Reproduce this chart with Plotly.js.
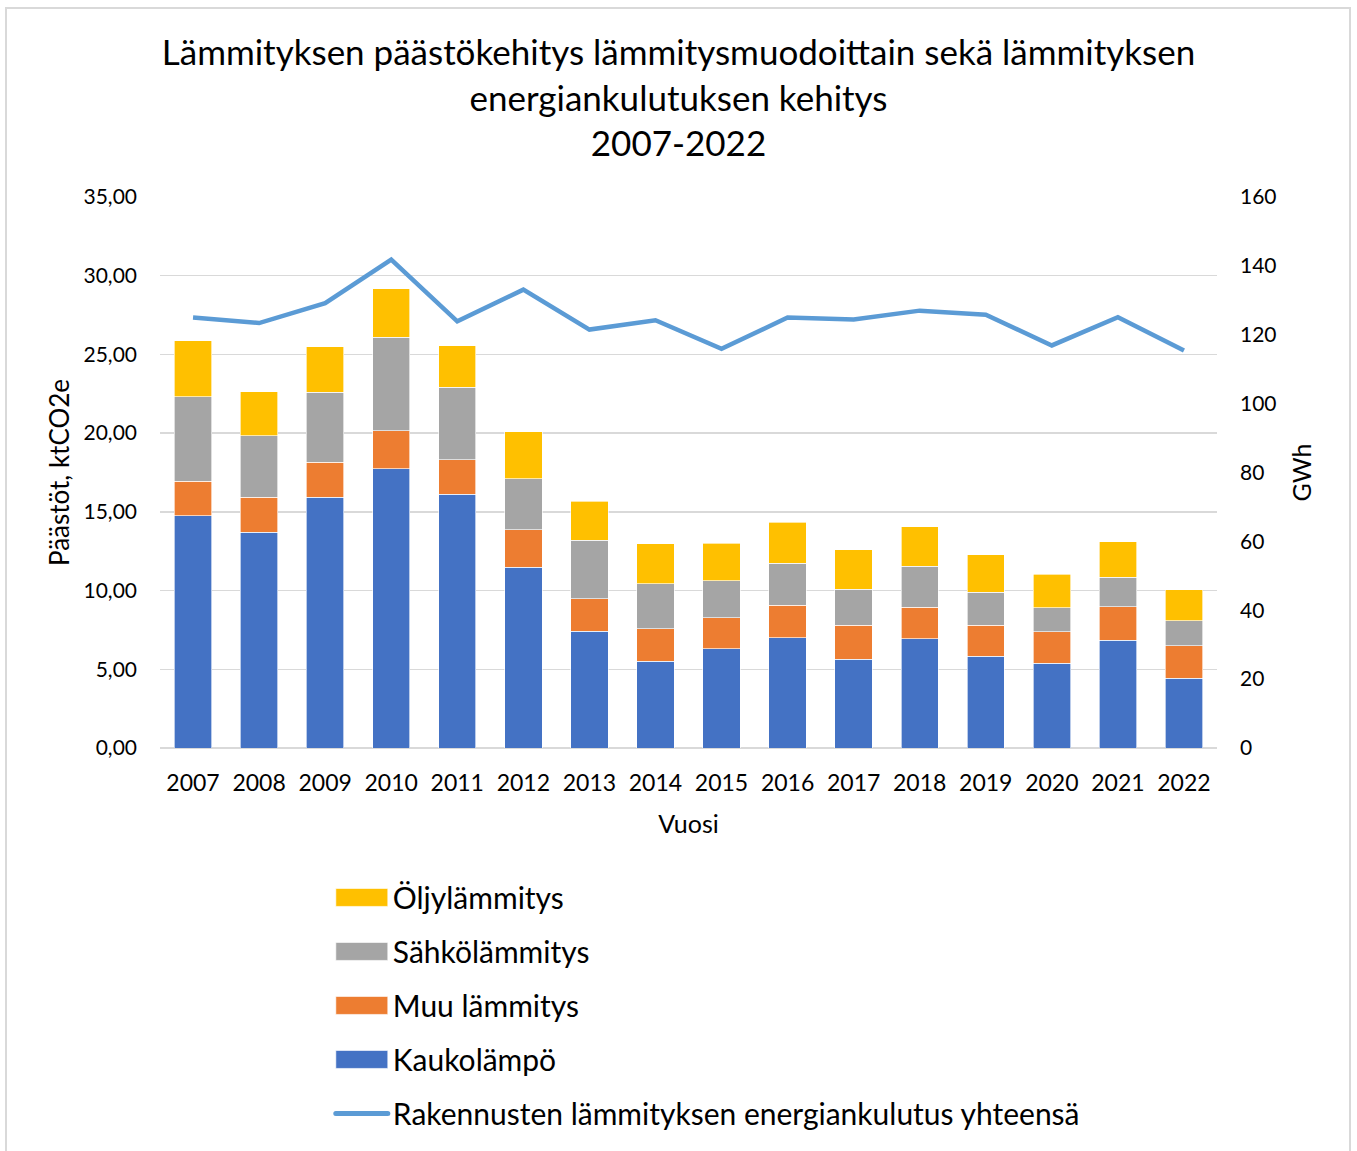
<!DOCTYPE html>
<html>
<head>
<meta charset="utf-8">
<script src="https://cdn.plot.ly/plotly-3.0.1.min.js"></script>
<style>
  html, body { margin: 0; padding: 0; background: #fff; }
  #wrap { position: relative; width: 1357px; height: 1151px; }
  #chart { position: absolute; left: 0; top: 0; width: 1357px; height: 1151px; }
  #frame { position: absolute; left: 5px; top: 7px; width: 1346px; height: 1150px;
           border: 2px solid #d9d9d9; box-sizing: border-box; pointer-events: none; }
</style>
</head>
<body>
<div id="wrap">
  <div id="chart"></div>
  <div id="frame"></div>
</div>
<script>
// ---- Data ----
const years = ["2007","2008","2009","2010","2011","2012","2013","2014","2015","2016","2017","2018","2019","2020","2021","2022"];
const kaukolampo = [14.76, 13.70, 15.92, 17.75, 16.11, 11.47, 7.41, 5.50, 6.29, 6.99, 5.65, 6.94, 5.82, 5.38, 6.84, 4.42];
const muuLammitys = [2.20, 2.22, 2.23, 2.41, 2.21, 2.38, 2.06, 2.08, 1.97, 2.09, 2.14, 1.99, 1.99, 1.99, 2.14, 2.06];
const sahkoLammitys = [5.36, 3.90, 4.44, 5.93, 4.59, 3.26, 3.72, 2.84, 2.37, 2.67, 2.29, 2.61, 2.08, 1.54, 1.88, 1.61];
const oljyLammitys = [3.54, 2.82, 2.89, 3.09, 2.63, 2.97, 2.48, 2.56, 2.39, 2.58, 2.50, 2.50, 2.37, 2.14, 2.25, 1.97];
const energiankulutus = [125.0, 123.4, 129.2, 141.8, 123.9, 133.1, 121.5, 124.2, 115.9, 125.0, 124.4, 127.0, 125.8, 116.9, 125.1, 115.4];

const leftTicks = [0, 5, 10, 15, 20, 25, 30, 35];
const leftTickText = ["0,00", "5,00", "10,00", "15,00", "20,00", "25,00", "30,00", "35,00"];
const rightTicks = [0, 20, 40, 60, 80, 100, 120, 140, 160];

const FONT = "Lato, 'Open Sans', sans-serif";
const barLine = { color: "rgba(255,255,255,0.8)", width: 0.8 };

const traces = [
  { type: "bar", name: "Kaukolämpö", x: years, y: kaukolampo,
    marker: { color: "#4472C4", line: barLine }, legendrank: 4, legendgroup: "g4" },
  { type: "bar", name: "Muu lämmitys", x: years, y: muuLammitys,
    marker: { color: "#ED7D31", line: barLine }, legendrank: 3, legendgroup: "g3" },
  { type: "bar", name: "Sähkölämmitys", x: years, y: sahkoLammitys,
    marker: { color: "#A5A5A5", line: barLine }, legendrank: 2, legendgroup: "g2" },
  { type: "bar", name: "Öljylämmitys", x: years, y: oljyLammitys,
    marker: { color: "#FFC000", line: barLine }, legendrank: 1, legendgroup: "g1" },
  { type: "scatter", mode: "lines", name: "Rakennusten lämmityksen energiankulutus yhteensä",
    x: years, y: energiankulutus, yaxis: "y2",
    line: { color: "#5B9BD5", width: 4.5, shape: "linear" }, legendrank: 5, legendgroup: "g5" }
];

const layout = {
  width: 1357, height: 1151,
  paper_bgcolor: "#fff", plot_bgcolor: "#fff",
  font: { family: FONT, color: "#000", size: 21 },
  margin: { l: 160, r: 140, t: 197, b: 403 },
  title: {
    text: "Lämmityksen päästökehitys lämmitysmuodoittain sekä lämmityksen<br>energiankulutuksen kehitys<br>2007-2022",
    font: { family: FONT, size: 35, color: "#000" },
    x: 0.5, xanchor: "center", y: 0.9435, yanchor: "top"
  },
  barmode: "stack",
  bargap: 0.435,
  showlegend: true,
  legend: {
    x: 0.1616, xanchor: "left", y: -0.224, yanchor: "top",
    orientation: "v", traceorder: "grouped", tracegroupgap: 12,
    font: { family: FONT, size: 30, color: "#000" },
    itemwidth: 52, bgcolor: "rgba(0,0,0,0)"
  },
  xaxis: {
    type: "category",
    tickfont: { family: FONT, size: 23, color: "#000" },
    ticks: "", showline: false, showgrid: false, ticklabelstandoff: 19,
    title: { text: "Vuosi", font: { family: FONT, size: 25, color: "#000" }, standoff: 20 },
    automargin: false
  },
  yaxis: {
    range: [0, 35], tickvals: leftTicks, ticktext: leftTickText,
    tickfont: { family: FONT, size: 21, color: "#000" },
    showgrid: true, gridcolor: "#d9d9d9", gridwidth: 1.3,
    zeroline: true, zerolinecolor: "#d9d9d9", zerolinewidth: 1.3,
    showline: false, ticks: "", ticklabelstandoff: 22,
    title: { text: "Päästöt, ktCO2e", font: { family: FONT, size: 26, color: "#000" }, standoff: 6 },
    automargin: false
  },
  yaxis2: {
    overlaying: "y", side: "right", range: [0, 160], tickvals: rightTicks,
    tickfont: { family: FONT, size: 21, color: "#000" },
    showgrid: false, zeroline: false, showline: false, ticks: "", ticklabelstandoff: 22,
    title: { text: "GWh", font: { family: FONT, size: 25, color: "#000" }, standoff: 17 },
    automargin: false
  }
};

Plotly.newPlot("chart", traces, layout, { staticPlot: true, displayModeBar: false }).then(function (gd) {
  // widen bar legend symbols to Excel-like rectangles
  gd.querySelectorAll(".legend path.legendbar, .legend path.legendundefined").forEach(function (p) {
    p.setAttribute("d", "M-26,9H26V-9H-26Z");
  });
  // thicker, round-capped legend line like the original
  gd.querySelectorAll(".legend path.js-line").forEach(function (p) {
    p.style.strokeWidth = "5px";
    p.style.strokeLinecap = "round";
  });
});
</script>
</body>
</html>
